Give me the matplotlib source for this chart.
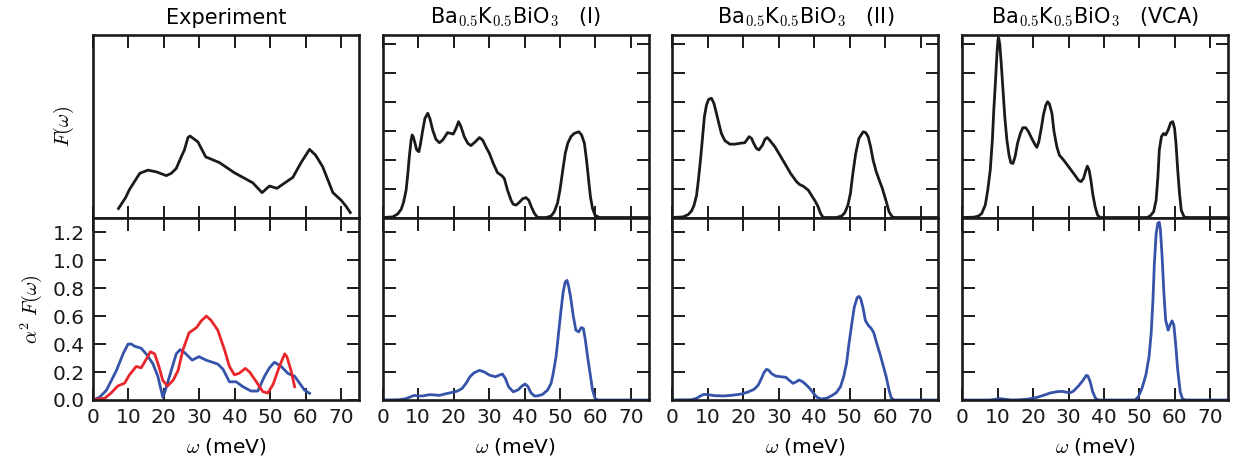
import numpy as np
import matplotlib
matplotlib.use("Agg")
import matplotlib.pyplot as plt

plt.rcParams["font.family"] = ["DejaVu Sans"]
plt.rcParams["mathtext.fontset"] = "cm"
plt.rcParams["font.size"] = 14.5

# --- experiment ---
exp_F_w = [7.2, 9.2, 10.3, 13.2, 15.5, 17.9, 20.7, 22.1, 23.5, 24.9, 25.8, 26.8, 27.4,
           29.6, 31.8, 35.7, 39.9, 45.1, 47.7, 49.8, 51.9, 56.4, 58.7, 61.1, 62.8, 64.8,
           67.7, 70.0, 71.4, 72.6]
exp_F = [0.31, 0.69, 0.97, 1.53, 1.64, 1.58, 1.45, 1.53, 1.70, 2.10, 2.34, 2.77, 2.82,
         2.62, 2.10, 1.90, 1.55, 1.20, 0.86, 1.09, 1.01, 1.39, 1.90, 2.36, 2.16, 1.76,
         0.86, 0.60, 0.39, 0.17]

exp_a2F_blue_w = [0.5, 1.9, 3.8, 6.6, 8.5, 9.9, 10.8, 11.7, 13.6, 15.0, 16.9, 18.3, 19.7,
                  20.2, 21.6, 23.5, 24.6, 25.8, 28.0, 29.9, 31.9, 35.2, 36.7, 38.5, 40.4,
                  42.3, 44.6, 46.5, 48.4, 49.8, 51.2, 53.1, 55.0, 56.9, 58.3, 59.7, 61.1]
exp_a2F_blue = [0.005, 0.02, 0.07, 0.21, 0.33, 0.40, 0.40, 0.385, 0.37, 0.33, 0.26, 0.17,
                0.02, 0.05, 0.17, 0.33, 0.36, 0.34, 0.285, 0.31, 0.285, 0.257, 0.22, 0.13,
                0.13, 0.095, 0.064, 0.064, 0.17, 0.23, 0.27, 0.24, 0.19, 0.17, 0.12, 0.07,
                0.048]

exp_a2F_red_w = [0.5, 3.3, 5.1, 7.0, 8.9, 10.3, 12.2, 13.6, 15.0, 16.2, 17.4, 18.6, 19.7,
                 21.0, 22.6, 24.0, 25.4, 27.1, 29.3, 30.5, 32.0, 33.3, 35.2, 37.1, 38.5,
                 39.9, 41.2, 43.0, 44.2, 46.1, 47.9, 49.3, 50.8, 52.6, 54.1, 54.7, 55.9,
                 56.9]
exp_a2F_red = [0.005, 0.012, 0.05, 0.10, 0.12, 0.18, 0.24, 0.23, 0.29, 0.345, 0.33, 0.24,
               0.14, 0.10, 0.14, 0.21, 0.36, 0.48, 0.52, 0.565, 0.60, 0.57, 0.50, 0.36,
               0.24, 0.18, 0.19, 0.226, 0.20, 0.13, 0.06, 0.05, 0.11, 0.24, 0.33, 0.31,
               0.21, 0.095]

# --- Ba0.5K0.5BiO3 (I) ---
b1_F_w = [0, 2.8, 4.2, 5.2, 5.9, 6.6, 7.0, 7.5, 8.0, 8.3, 8.6, 9.0, 9.6, 10.2, 10.6,
          11.3, 11.9, 12.7, 13.3, 14.1, 15.0, 16.0, 16.9, 18.3, 19.3, 19.9, 20.7, 21.4,
          22.1, 23.0, 24.0, 24.9, 26.1, 27.3, 28.2, 29.1, 30.1, 31.2, 32.4, 33.6, 34.3,
          35.2, 36.2, 36.8, 37.6, 38.5, 39.5, 40.4, 41.2, 42.0, 42.8, 43.7,
          46.1, 47.5, 48.4, 49.3, 50.0, 50.8, 51.5, 52.2, 53.1, 54.0, 55.3, 56.1, 56.9,
          57.5, 58.1, 58.6, 59.2, 59.9, 61.1, 75]
b1_F = [0, 0.02, 0.12, 0.28, 0.54, 0.95, 1.41, 2.10, 2.68, 2.86, 2.80, 2.62, 2.34, 2.28,
        2.51, 3.03, 3.43, 3.61, 3.43, 3.03, 2.71, 2.59, 2.68, 2.94, 2.91, 2.89, 3.09,
        3.32, 3.14, 2.80, 2.57, 2.49, 2.62, 2.77, 2.68, 2.45, 2.22, 1.87, 1.55, 1.45,
        1.35, 0.95, 0.60, 0.46, 0.43, 0.52, 0.65, 0.69, 0.60, 0.35, 0.14, 0,
        0, 0.05, 0.20, 0.49, 0.95, 1.64, 2.22, 2.57, 2.80, 2.91, 2.97, 2.86, 2.57,
        1.99, 1.29, 0.72, 0.31, 0.08, 0, 0]

b1_a2F_w = [0, 4.7, 6.6, 8.0, 8.9, 9.9, 11.3, 13.2, 14.6, 16.0, 17.9, 19.7, 21.1, 22.4,
            23.5, 24.6, 25.8, 27.3, 28.7, 30.1, 31.8, 32.9, 33.8, 34.6, 35.5, 36.8, 38.1,
            39.3, 40.2, 41.0, 41.8, 42.8, 43.7, 45.1, 46.5, 47.5, 48.1, 48.9, 49.6, 50.3,
            50.9, 51.5, 52.0, 52.4, 53.0, 53.8, 54.5, 55.3, 56.0, 56.6, 57.1, 57.8, 58.5,
            59.2, 59.9, 60.6, 75]
b1_a2F = [0, 0.002, 0.01, 0.024, 0.033, 0.029, 0.029, 0.038, 0.036, 0.033, 0.045, 0.055,
          0.064, 0.083, 0.119, 0.166, 0.195, 0.212, 0.20, 0.178, 0.166, 0.178, 0.185,
          0.154, 0.095, 0.059, 0.071, 0.10, 0.114, 0.095, 0.052, 0.029, 0.029, 0.04,
          0.071, 0.119, 0.19, 0.309, 0.475, 0.642, 0.772, 0.844, 0.855, 0.82, 0.737,
          0.594, 0.499, 0.487, 0.518, 0.511, 0.44, 0.309, 0.19, 0.071, 0.012, 0, 0]

# --- Ba0.5K0.5BiO3 (II) ---
b2_F_w = [0, 3.0, 4.4, 5.4, 6.1, 6.8, 7.3, 7.9, 8.5, 9.0, 9.6, 10.2, 11.0, 11.7, 12.4,
          13.2, 13.8, 14.8, 16.2, 17.6, 19.0, 20.4, 21.1, 21.6, 22.3, 22.9, 23.7, 24.4,
          25.4, 26.1, 26.7, 27.4, 28.9, 30.3, 31.7, 33.3, 35.0, 35.9, 36.8, 38.3, 39.2,
          40.1, 41.1, 41.7, 42.5,
          46.2, 47.7, 48.6, 49.5, 50.2, 50.9, 51.7, 52.6, 53.8, 54.5, 55.2, 55.9, 56.6,
          57.5, 58.5, 59.2, 60.2, 61.1, 62.0, 62.7, 75]
b2_F = [0, 0.02, 0.10, 0.23, 0.43, 0.77, 1.29, 1.99, 2.80, 3.49, 3.90, 4.09, 4.13, 3.95,
        3.61, 3.20, 2.91, 2.66, 2.54, 2.54, 2.57, 2.59, 2.71, 2.80, 2.74, 2.57, 2.39,
        2.34, 2.51, 2.71, 2.77, 2.68, 2.45, 2.16, 1.87, 1.53, 1.24, 1.14, 1.09, 0.95,
        0.77, 0.60, 0.37, 0.16, 0,
        0, 0.05, 0.16, 0.43, 0.83, 1.53, 2.22, 2.74, 2.97, 2.94, 2.80, 2.45, 1.99,
        1.58, 1.24, 1.01, 0.60, 0.20, 0.02, 0, 0]

b2_a2F_w = [0, 5.4, 6.8, 7.9, 8.8, 10.1, 11.9, 14.3, 16.6, 19.5, 21.3, 23.0, 24.2, 25.1,
            25.8, 26.5, 27.1, 27.9, 29.1, 30.7, 32.0, 33.1, 34.0, 35.0, 35.7, 36.7, 37.8,
            38.9, 39.8, 40.8, 42.0, 43.4, 44.8, 46.2, 47.4, 48.3, 49.1, 49.8, 50.6, 51.3,
            52.1, 52.6, 53.1, 53.8, 54.4, 55.2, 56.1, 56.8, 57.5, 58.5, 59.4, 60.3, 61.1,
            61.7, 62.4, 75]
b2_a2F = [0, 0.002, 0.012, 0.029, 0.04, 0.038, 0.031, 0.029, 0.033, 0.043, 0.057, 0.076,
          0.107, 0.154, 0.195, 0.219, 0.214, 0.19, 0.171, 0.166, 0.162, 0.138, 0.119,
          0.131, 0.143, 0.131, 0.107, 0.078, 0.048, 0.019, 0.007, 0.012, 0.029, 0.052,
          0.095, 0.166, 0.261, 0.404, 0.547, 0.665, 0.732, 0.741, 0.725, 0.654, 0.57,
          0.535, 0.511, 0.48, 0.416, 0.333, 0.25, 0.166, 0.071, 0.017, 0, 0]

# --- Ba0.5K0.5BiO3 (VCA) ---
vca_F_w = [0, 3.2, 4.6, 5.5, 6.5, 7.2, 7.9, 8.5, 8.9, 9.4, 9.8, 10.1, 10.3, 10.6, 11.0,
           11.5, 12.0, 12.6, 13.2, 13.7, 14.3, 14.9, 15.6, 16.4, 17.1, 17.9, 18.7, 19.6,
           20.6, 21.05, 21.6, 22.3, 22.9, 23.6, 24.1, 24.6, 25.3, 25.9, 26.7, 27.4, 28.6,
           30.0, 31.4, 32.8, 33.5, 34.2, 34.9, 35.3, 35.8, 36.3, 36.8, 37.5, 38.2, 38.9,
           52.1, 53.0, 54.0, 54.7, 55.2, 55.6, 56.2, 56.8, 57.4, 58.1, 58.8, 59.4, 59.9,
           60.3, 60.8, 61.3, 61.8, 62.6, 63.3, 75]
vca_F = [0, 0.01, 0.05, 0.14, 0.43, 0.95, 1.64, 2.68, 3.72, 4.76, 5.69, 6.17, 6.21, 5.98,
         5.34, 4.42, 3.49, 2.68, 2.16, 1.90, 1.87, 2.10, 2.57, 2.91, 3.11, 3.11, 2.97,
         2.74, 2.51, 2.43, 2.62, 3.09, 3.55, 3.90, 4.01, 3.93, 3.61, 2.97, 2.45, 2.16,
         1.99, 1.76, 1.53, 1.29, 1.24, 1.35, 1.64, 1.78, 1.64, 1.29, 0.83, 0.37, 0.08, 0,
         0, 0.05, 0.20, 0.60, 1.41, 2.34, 2.80, 2.91, 2.86, 3.03, 3.28, 3.32, 3.09,
         2.57, 1.64, 0.83, 0.25, 0.02, 0, 0]

vca_a2F_w = [0, 7.9, 9.3, 10.7, 12.1, 14.0, 16.4, 18.7, 21.1, 22.9, 24.8, 26.7, 28.1,
             29.5, 30.5, 31.4, 32.8, 34.0, 35.0, 35.4, 36.1, 36.8, 37.6, 38.4, 48.8, 49.7,
             50.7, 51.8, 52.7, 53.3, 53.8, 54.2, 54.7, 55.2, 55.6, 55.9, 56.4, 56.9, 57.4,
             58.1, 58.6, 59.2, 59.7, 60.2, 60.8, 61.5, 62.1, 62.9, 75]
vca_a2F = [0, 0, 0.005, 0.01, 0.005, 0, 0.002, 0.007, 0.019, 0.033, 0.05, 0.059, 0.062,
           0.055, 0.052, 0.064, 0.10, 0.138, 0.176, 0.173, 0.131, 0.059, 0.012, 0, 0,
           0.024, 0.083, 0.178, 0.309, 0.475, 0.713, 0.974, 1.188, 1.264, 1.271, 1.224,
           1.022, 0.76, 0.57, 0.499, 0.535, 0.566, 0.535, 0.404, 0.214, 0.059, 0.01, 0, 0]

compound = r"Ba$_{0.5}$K$_{0.5}$BiO$_3$"
titles = ["Experiment", compound + "   (I)", compound + "   (II)", compound + "   (VCA)"]

F_curves = [(exp_F_w, exp_F), (b1_F_w, b1_F), (b2_F_w, b2_F), (vca_F_w, vca_F)]
a2F_curves = [[(exp_a2F_blue_w, exp_a2F_blue, "blue"), (exp_a2F_red_w, exp_a2F_red, "red")],
              [(b1_a2F_w, b1_a2F, "blue")],
              [(b2_a2F_w, b2_a2F, "blue")],
              [(vca_a2F_w, vca_a2F, "blue")]]
colors = {"blue": "#3553a8", "red": "#e8262b"}

fig, axes = plt.subplots(2, 4, figsize=(12.33, 4.65), dpi=100, sharex=True)
fig.subplots_adjust(left=0.0754, right=0.996, top=0.9247, bottom=0.1398,
                    wspace=0.09, hspace=0.0)

for i in range(4):
    top, bot = axes[0, i], axes[1, i]
    w, f = F_curves[i]
    top.plot(w, f, color="#1a1a1a", lw=2.0, solid_joinstyle="round")
    for w2, a, c in a2F_curves[i]:
        bot.plot(w2, a, color=colors[c], lw=2.0, solid_joinstyle="round")

    top.set_title(titles[i], pad=8, fontsize=15)
    top.set_ylim(0, 6.32)
    if i == 0:
        top.set_yticks([])
    else:
        top.set_yticks(range(0, 7))
    top.tick_params(labelleft=False)

    bot.set_ylim(0, 1.305)
    bot.set_yticks(np.arange(0, 1.21, 0.2))
    if i > 0:
        bot.tick_params(labelleft=False)
    bot.set_xlim(0, 75)
    bot.set_xticks(range(0, 71, 10))
    bot.set_xlabel(r"$\omega$ (meV)", labelpad=6)

    for ax in (top, bot):
        ax.tick_params(direction="in", top=True, right=True, length=9, width=1.4,
                       colors="#1a1a1a", pad=6)
        for s in ax.spines.values():
            s.set_linewidth(1.9)
            s.set_color("#1a1a1a")

axes[0, 0].set_ylabel(r"$F(\omega)$", labelpad=12)
axes[1, 0].set_ylabel(r"$\alpha^2\ F(\omega)$", labelpad=6)
axes[1, 0].set_yticklabels(["0.0", "0.2", "0.4", "0.6", "0.8", "1.0", "1.2"])

fig.savefig("out.png", dpi=100)
